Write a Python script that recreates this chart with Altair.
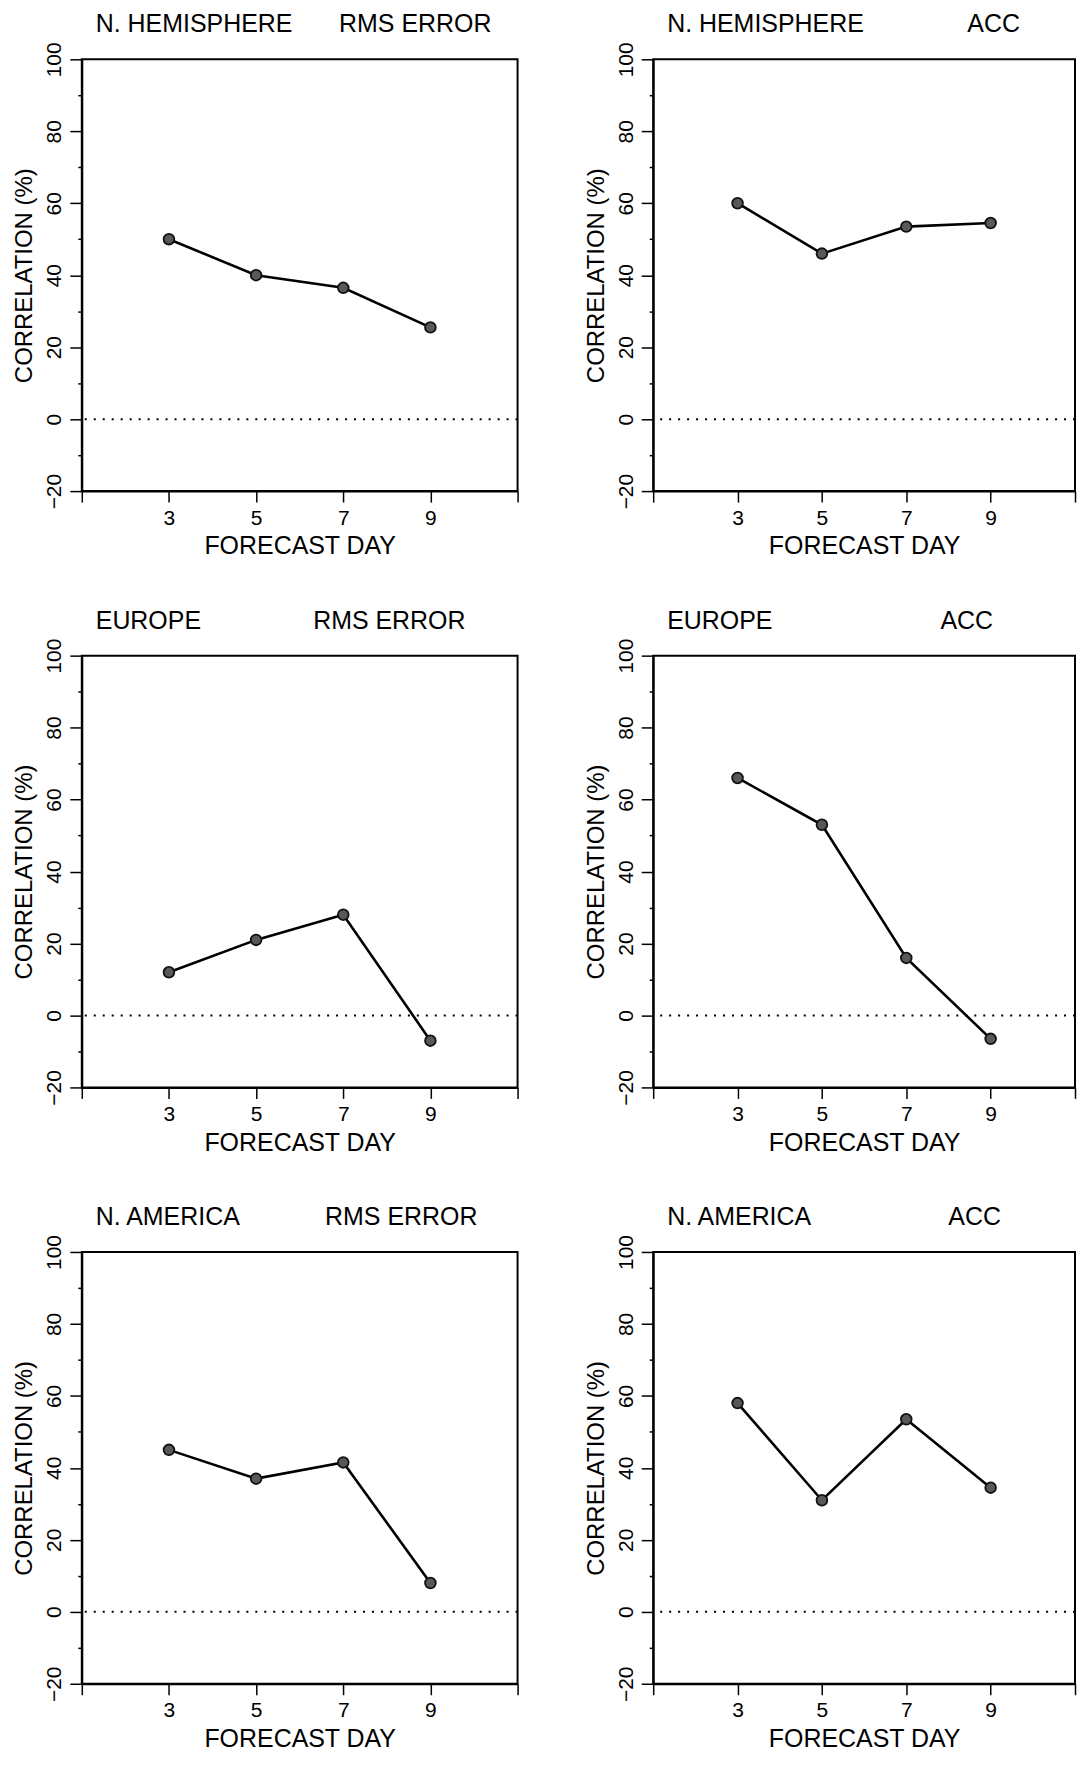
import altair as alt
import pandas as pd

# ---- data ----
days = [3, 5, 7, 9]
x_ticks = [1, 3, 5, 7, 9, 11]
y_ticks = [-20, -10, 0, 10, 20, 30, 40, 50, 60, 70, 80, 90, 100]

regions = ["N. HEMISPHERE", "EUROPE", "N. AMERICA"]
metrics = ["RMS ERROR", "ACC"]

nh_rms = [50, 40, 36.5, 25.5]
nh_acc = [60, 46, 53.5, 54.5]
eu_rms = [12, 21, 28, -7]
eu_acc = [66, 53, 16, -6.5]
na_rms = [45, 37, 41.5, 8]
na_acc = [58, 31, 53.5, 34.5]

# horizontal offsets (px from plot left) of the metric label in each panel title
rms_label_x = [258, 232, 244]
acc_label_x = [315, 288, 296]

FONT = "Liberation Sans"
H = 433
W_LEFT = 437
W_RIGHT = 423


def panel(values, region, metric, metric_x, width):
    df = pd.DataFrame({"day": days, "corr": values})
    x = alt.X(
        "day:Q",
        scale=alt.Scale(domain=[1, 11], nice=False, zero=False),
        axis=alt.Axis(
            values=x_ticks,
            labelExpr="(datum.value == 1 || datum.value == 11) ? '' : datum.label",
            tickSize=11,
            labelPadding=5,
            labelFontSize=21,
            labelFlush=False,
            labelOverlap=False,
            title="FORECAST DAY",
            titleFontSize=25,
            titlePadding=6,
        ),
    )
    y = alt.Y(
        "corr:Q",
        scale=alt.Scale(domain=[-20, 100], nice=False, zero=False),
        axis=alt.Axis(
            values=y_ticks,
            labelExpr="datum.value % 20 == 0 ? datum.label : ''",
            labelAngle=270,
            labelAlign="center",
            labelBaseline="bottom",
            labelPadding=5,
            labelFontSize=21,
            labelFlush=False,
            labelOverlap=False,
            tickSize={"condition": {"test": "datum.value % 20 == 0", "value": 12}, "value": 4},
            title="CORRELATION (%)",
            titleFontSize=24,
            titlePadding=7,
        ),
    )
    zero = (
        alt.Chart(pd.DataFrame({"corr": [0]}))
        .mark_rule(color="black", strokeWidth=2, strokeDash=[2, 7])
        .encode(y=y)
    )
    line = alt.Chart(df).mark_line(color="black", strokeWidth=2.6).encode(x=x, y=y)
    pts = (
        alt.Chart(df)
        .mark_point(filled=True, size=115, fill="#585858", stroke="#111111", strokeWidth=1.8, opacity=1)
        .encode(x=x, y=y)
    )
    t_region = (
        alt.Chart(pd.DataFrame({"label": [region]}))
        .mark_text(align="left", baseline="top", font=FONT, fontSize=25, color="black")
        .encode(text="label:N", x=alt.value(14), y=alt.value(-47))
    )
    t_metric = (
        alt.Chart(pd.DataFrame({"label": [metric]}))
        .mark_text(align="left", baseline="top", font=FONT, fontSize=25, color="black")
        .encode(text="label:N", x=alt.value(metric_x), y=alt.value(-47))
    )
    return alt.layer(zero, line, pts, t_region, t_metric).properties(width=width, height=H)


left_series = [nh_rms, eu_rms, na_rms]
right_series = [nh_acc, eu_acc, na_acc]

panels = []
for i in range(3):
    panels.append(panel(left_series[i], regions[i], metrics[0], rms_label_x[i], W_LEFT))
    panels.append(panel(right_series[i], regions[i], metrics[1], acc_label_x[i], W_RIGHT))

chart = (
    alt.concat(*panels, columns=2, spacing={"row": 165, "column": 136}, bounds="flush")
    .properties(padding={"left": 4, "top": 1, "right": 0, "bottom": 0}, background="white")
    .configure_view(stroke="black", strokeWidth=2)
    .configure_axis(
        domainColor="black",
        domainWidth=2,
        tickColor="black",
        tickWidth=1.5,
        labelColor="black",
        titleColor="black",
        labelFont=FONT,
        titleFont=FONT,
        titleFontWeight="normal",
        grid=False,
    )
)

chart.save("out.html", embed_options={"renderer": "svg", "actions": False})
